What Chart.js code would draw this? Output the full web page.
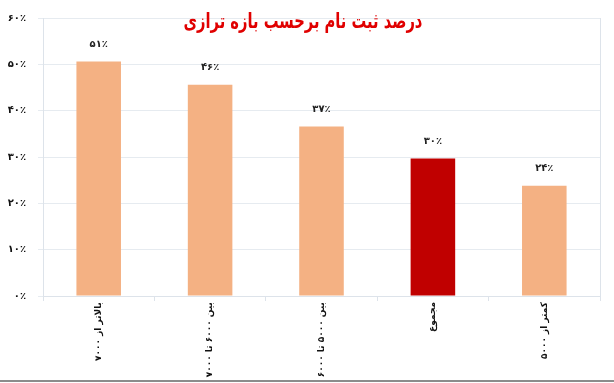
<!DOCTYPE html>
<html>
<head>
<meta charset="utf-8">
<script src="https://cdn.jsdelivr.net/npm/chart.js@4"></script>
<style>
  html, body { margin: 0; padding: 0; background: #fff; }
  #wrap { width: 614px; height: 383px; position: relative; }
</style>
</head>
<body>
<div id="wrap"><canvas id="regChart"></canvas></div>
<script>
// data
const categories = ['بالاتر از ۷۰۰۰', 'بین ۶۰۰۰ تا ۷۰۰۰', 'بین ۵۰۰۰ تا ۶۰۰۰', 'مجموع', 'کمتر از ۵۰۰۰'];
const percents = [50.6, 45.6, 36.6, 29.7, 23.8];
const barColors = ['#f4b183', '#f4b183', '#f4b183', '#c00000', '#f4b183'];
const yTicks = [0, 10, 20, 30, 40, 50, 60];
const chartTitle = 'درصد ثبت نام برحسب بازه ترازی';

const faDigits = '۰۱۲۳۴۵۶۷۸۹';
const toFa = n => String(n).replace(/[0-9]/g, d => faDigits[d]);
const FONT = "'DejaVu Sans', sans-serif";

const extras = {
    id: 'extras',
    afterDatasetsDraw(chart) {
        const ctx = chart.ctx;
        const meta = chart.getDatasetMeta(0);
        ctx.save();
        ctx.fillStyle = '#222';
        ctx.font = 'bold 10px ' + FONT;
        ctx.textAlign = 'center';
        ctx.textBaseline = 'middle';
        meta.data.forEach((bar, i) => {
            ctx.fillText(toFa(Math.round(percents[i])) + '٪', bar.x, bar.y - 17);
        });
        // right edge of plot area
        const a = chart.chartArea;
        ctx.strokeStyle = '#dde3ea';
        ctx.lineWidth = 1;
        ctx.beginPath();
        ctx.moveTo(a.right + 0.5, a.top);
        ctx.lineTo(a.right + 0.5, a.bottom);
        ctx.stroke();
        // title, squeezed a bit like the original bold face
        ctx.save();
        ctx.translate(303, 23);
        ctx.scale(0.7, 1);
        ctx.fillStyle = '#e00000';
        ctx.font = 'bold 21px ' + FONT;
        ctx.fillText(chartTitle, 0, 0);
        ctx.restore();
        // bottom frame line
        ctx.fillStyle = '#8c8c8c';
        ctx.fillRect(0, 380, chart.width, 2);
        ctx.restore();
    }
};

new Chart(document.getElementById('regChart'), {
    type: 'bar',
    data: {
        labels: categories,
        datasets: [{
            data: percents,
            backgroundColor: barColors,
            barPercentage: 0.4,
            categoryPercentage: 1
        }]
    },
    options: {
        responsive: true,
        maintainAspectRatio: false,
        animation: false,
        layout: { padding: { top: 18, right: 14, left: 0, bottom: 0 } },
        plugins: {
            legend: { display: false },
            tooltip: { enabled: false }
        },
        scales: {
            x: {
                grid: { display: true, drawOnChartArea: false, offset: true, tickLength: 5, color: '#dde3ea' },
                border: { color: '#dde3ea' },
                ticks: {
                    minRotation: 90, maxRotation: 90,
                    autoSkip: false,
                    color: '#111',
                    font: { family: FONT, size: 9, weight: 'bold' },
                    padding: 1
                },
                afterFit: s => { s.height = 87; }
            },
            y: {
                min: 0, max: 60,
                afterBuildTicks: s => { s.ticks = yTicks.map(v => ({ value: v })); },
                grid: { color: '#e6ebf0', tickLength: 5 },
                border: { color: '#dde3ea' },
                ticks: {
                    color: '#111',
                    font: { family: FONT, size: 10, weight: 'bold' },
                    padding: 12,
                    callback: v => toFa(v) + '٪'
                },
                afterFit: s => { s.width = 43; }
            }
        }
    },
    plugins: [extras]
});
</script>
</body>
</html>
